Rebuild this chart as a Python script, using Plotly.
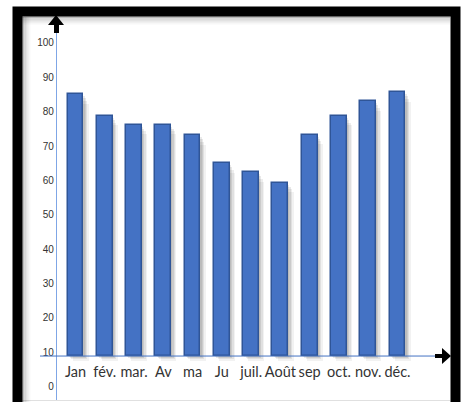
import plotly.graph_objects as go

# ---- data ----
months = ["Jan", "fév.", "mar.", "Av", "ma", "Ju", "juil.", "Août", "sep", "oct.", "nov.", "déc."]
values = [86.2, 80.0, 77.4, 77.4, 74.4, 66.2, 63.5, 60.5, 74.5, 80.0, 84.2, 86.8]
y_ticks = [0, 10, 20, 30, 40, 50, 60, 70, 80, 90, 100]
BASE = 10  # level where the horizontal axis crosses

# ---- geometry ----
WIDTH, HEIGHT = 462, 402
L, T, R, B = 57, 25, 25, 2
PW, PH = WIDTH - L - R, HEIGHT - T - B
YR = [-2.8, 106.4]
XR = [-0.63, 12.35]

def px(x):
    return (x - L) / PW

def py(y):
    return (HEIGHT - B - y) / PH

bar_w = 0.54
heights = [v - BASE for v in values]

fig = go.Figure()
# soft shadows
for dx, dy, a in [(0.18, 1.4, 0.05), (0.13, 1.0, 0.07), (0.08, 0.6, 0.09), (0.04, 0.3, 0.08)]:
    fig.add_trace(go.Bar(
        x=months, y=[h - dy for h in heights], base=BASE - dy,
        width=bar_w, offset=-bar_w / 2 + dx,
        marker=dict(color=f"rgba(0,0,0,{a})", line=dict(width=0)),
        hoverinfo="skip", showlegend=False))
fig.add_trace(go.Bar(
    x=months, y=heights, base=BASE, width=bar_w, offset=-bar_w / 2,
    marker=dict(color="#4472C4", line=dict(color="#2F5597", width=1.5)),
    showlegend=False))

shapes = []
# frame inner shadow
for i, a in enumerate([0.22, 0.15, 0.10, 0.06, 0.03]):
    shapes.append(dict(type="line", xref="paper", yref="paper",
                       x0=px(22), x1=px(450), y0=py(17 + i * 1.6), y1=py(17 + i * 1.6),
                       line=dict(color=f"rgba(0,0,0,{a})", width=2)))
    shapes.append(dict(type="line", xref="paper", yref="paper",
                       x0=px(23 + i * 1.6), x1=px(23 + i * 1.6), y0=py(17), y1=py(402),
                       line=dict(color=f"rgba(0,0,0,{a})", width=2)))
# black frame
shapes.append(dict(type="rect", xref="paper", yref="paper",
                   x0=px(17.5), x1=px(455.5), y0=py(425), y1=py(11.5),
                   line=dict(color="black", width=10), fillcolor="rgba(0,0,0,0)"))
# bottom faint line
shapes.append(dict(type="line", xref="paper", yref="paper",
                   x0=px(22), x1=px(450), y0=py(400.5), y1=py(400.5),
                   line=dict(color="rgba(0,0,0,0.12)", width=1)))
# x axis line (extends a bit left of the y axis)
shapes.append(dict(type="line", xref="paper", yref="y",
                   x0=px(40), x1=px(437), y0=BASE, y1=BASE,
                   line=dict(color="#4472C4", width=1)))

def poly(pts):
    return "M " + " L ".join(f"{px(a)},{py(b)}" for a, b in pts) + " Z"

# up arrow (y axis)
shapes.append(dict(type="path", xref="paper", yref="paper",
                   path=poly([(56, 15), (64, 25), (59, 25), (59, 33), (54, 33), (54, 25), (48, 25)]),
                   fillcolor="black", line=dict(width=0)))
# right arrow (x axis)
shapes.append(dict(type="path", xref="paper", yref="paper",
                   path=poly([(451, 356), (442, 348), (442, 354), (435, 354), (435, 358), (442, 358), (442, 364)]),
                   fillcolor="black", line=dict(width=0)))

fig.update_layout(
    width=WIDTH, height=HEIGHT,
    margin=dict(l=L, r=R, t=T, b=B, pad=0),
    paper_bgcolor="white", plot_bgcolor="white",
    barmode="overlay", bargap=0,
    shapes=shapes,
    xaxis=dict(range=XR, showgrid=False, zeroline=False, showline=False,
               ticks="", anchor="free", position=py(356), ticklabelstandoff=5,
               tickangle=0,
               tickfont=dict(family="Lato, Open Sans, sans-serif", size=14.5, color="#333333"),
               fixedrange=True),
    yaxis=dict(range=YR, tickvals=y_ticks, showgrid=False, zeroline=False,
               showline=True, linecolor="#7FA6E6", linewidth=1.2, ticks="",
               ticklabelshift=-4,
               tickfont=dict(family="Liberation Sans, Arial, sans-serif", size=10, color="#333333"),
               fixedrange=True),
)

fig.write_html("out.html")
